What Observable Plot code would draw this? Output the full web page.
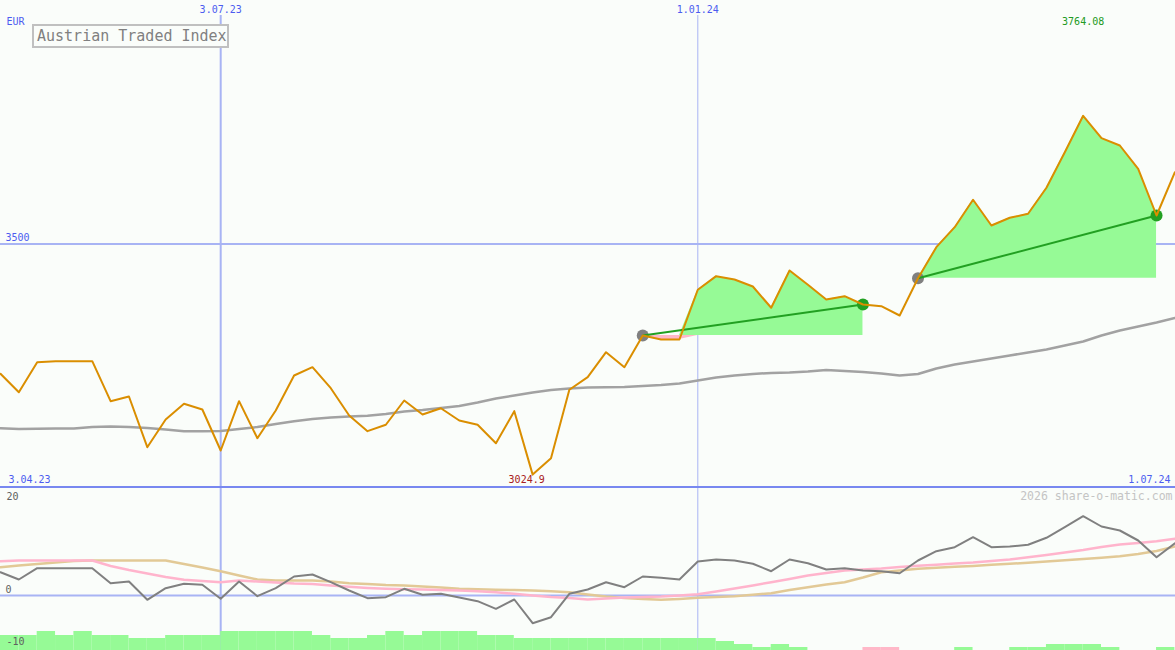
<!DOCTYPE html>
<html><head><meta charset="utf-8">
<script src="https://cdn.jsdelivr.net/npm/d3@7"></script>
<script src="https://cdn.jsdelivr.net/npm/@observablehq/plot@0.6"></script>
<style>
body{margin:0;background:#fafdfa;}
#chart{position:relative;width:1175px;height:650px;overflow:hidden;background:#fafdfa;}
#chart svg{display:block;}
#title{position:absolute;left:32px;top:24px;width:190px;height:20px;padding-left:3px;border:2px solid #c0c0c0;background:#fafdfa;font:15px "DejaVu Sans Mono",monospace;color:#808080;line-height:20px;z-index:2;white-space:nowrap;}
</style></head>
<body>
<div id="chart"><div id="title">Austrian Traded Index</div></div>
<script>
// ---- data (weekly, Mondays 10.04.23 .. 1.07.24) ----
const price = [3232.6, 3194.7, 3256.5, 3258.6, 3258.6, 3258.6, 3176.2, 3185.8, 3081.4, 3138.5,
  3170.8, 3159.1, 3074.6, 3176.2, 3099.9, 3157.0, 3229.1, 3246.2, 3202.9, 3146.7,
  3114.4, 3127.6, 3177.6, 3148.8, 3161.7, 3136.4, 3127.6, 3089.6, 3155.6, 3024.9,
  3058.7, 3199.7, 3225.6, 3277.1, 3246.2, 3311.5, 3303.3, 3303.3, 3405.7, 3433.7,
  3426.9, 3412.4, 3368.6, 3445.4, 3416.0, 3385.7, 3392.5, 3375.4, 3371.9, 3352.7,
  3429.5, 3493.4, 3534.6, 3591.1, 3538.1, 3554.0, 3562.2, 3615.8, 3689.1, 3764.08,
  3718.0, 3702.9, 3654.9, 3558.7, 3647.9];
const movingAvg = [3120.5, 3118.9, 3119.3, 3119.9, 3119.9, 3123.0, 3124.0, 3123.0, 3121.0, 3117.9,
  3114.4, 3114.4, 3114.8, 3118.9, 3123.0, 3129.2, 3135.0, 3139.5, 3142.6, 3144.6,
  3146.1, 3149.8, 3155.0, 3158.0, 3162.2, 3166.3, 3173.5, 3181.7, 3187.9, 3194.1,
  3199.2, 3202.3, 3204.4, 3205.0, 3205.4, 3207.5, 3209.5, 3212.6, 3218.8, 3225.0,
  3229.1, 3232.2, 3234.3, 3235.3, 3237.3, 3240.4, 3238.4, 3236.3, 3233.2, 3229.1,
  3232.2, 3243.5, 3251.8, 3257.9, 3264.1, 3270.3, 3276.5, 3282.7, 3290.9, 3299.1,
  3311.5, 3321.8, 3330.0, 3338.3, 3347.6];
const oscillator = [4.66, 3.2, 5.46, 5.46, 5.46, 5.46, 2.46, 2.8, -0.86, 1.46,
  2.34, 2.14, -0.66, 2.8, -0.14, 1.46, 3.8, 4.2, 2.66, 1.0,
  -0.54, -0.34, 1.34, 0.14, 0.34, -0.4, -1.14, -2.66, -0.8, -5.54,
  -4.34, 0.34, 1.2, 2.66, 1.66, 3.8, 3.54, 3.2, 6.8, 7.2,
  7.0, 6.34, 4.86, 7.2, 6.46, 5.2, 5.46, 5.0, 4.86, 4.46,
  7.0, 8.86, 9.66, 11.66, 9.66, 9.8, 10.14, 11.54, 13.66, 15.86,
  13.8, 13.0, 11.0, 7.66, 10.46];
const signalPink = [6.86, 7.0, 7.0, 7.0, 7.0, 7.0, 5.9, 5.1, 4.4, 3.7,
  3.14, 2.9, 2.66, 3.0, 2.8, 2.6, 2.4, 2.3, 2.0, 1.74,
  1.5, 1.34, 1.26, 1.2, 1.1, 1.0, 0.84, 0.66, 0.34, 0.0,
  -0.3, -0.5, -0.8, -0.6, -0.4, -0.3, -0.2, 0.0, 0.26, 0.8,
  1.4, 2.0, 2.66, 3.3, 4.0, 4.5, 5.0, 5.2, 5.4, 5.7,
  5.94, 6.16, 6.4, 6.6, 6.9, 7.2, 7.64, 8.1, 8.6, 9.1,
  9.7, 10.2, 10.5, 10.84, 11.34];
const signalTan = [5.66, 6.0, 6.3, 6.6, 6.9, 7.0, 7.0, 7.0, 7.0, 7.0,
  6.3, 5.6, 4.86, 4.0, 3.2, 3.0, 3.0, 3.0, 2.8, 2.44,
  2.3, 2.1, 2.0, 1.8, 1.6, 1.34, 1.24, 1.14, 1.08, 1.0,
  0.84, 0.66, 0.2, -0.2, -0.5, -0.7, -0.86, -0.7, -0.46, -0.3,
  -0.14, 0.14, 0.46, 1.1, 1.66, 2.2, 2.66, 3.6, 4.66, 5.0,
  5.34, 5.54, 5.74, 5.9, 6.14, 6.34, 6.54, 6.8, 7.04, 7.3,
  7.54, 7.86, 8.3, 8.9, 9.8];
const histogram = [3.0, 3.0, 3.8, 3.0, 3.8, 3.0, 3.0, 2.4, 2.4, 3.0,
  3.0, 3.0, 3.8, 3.8, 3.8, 3.8, 3.8, 3.0, 2.4, 2.4,
  3.0, 3.8, 3.0, 3.8, 3.8, 3.8, 3.0, 3.0, 2.4, 2.4,
  2.4, 2.4, 2.4, 2.4, 2.4, 2.4, 2.4, 2.4, 2.4, 1.8,
  1.2, 0.6, 1.2, 0.6, 0, 0, 0, -0.6, -0.6, 0,
  0, 0, 0.6, 0, 0, 0.6, 0.6, 1.2, 1.2, 1.2,
  0.6, 0, 0, 0.6, 0];
const trades = [[35, 47], [50, 63]];           // entry index, exit index
const gridLabels = ["3.07.23", "1.01.24"];
const gridDates = [new Date(Date.UTC(2023, 6, 3)), new Date(Date.UTC(2024, 0, 1))];
const gridWidths = [2, 1];
const edgeLabels = ["3.04.23", "1.07.24"];
const priceTicks = [3500];
const lowerTicks = [20, 0, -10];
const currency = "EUR";
const credit = "2026 share-o-matic.com";

// ---- build ----
const dates = d3.utcMonday.range(new Date(Date.UTC(2023, 3, 10)), new Date(Date.UTC(2024, 6, 2)));
const rows = dates.map((date, i) => ({
  date, next: dates[i + 1] ?? d3.utcWeek.offset(date, 1),
  price: price[i], ma: movingAvg[i], osc: oscillator[i],
  sigA: signalPink[i], sigB: signalTan[i], hist: histogram[i]
}));
const grid = gridDates.map((date, i) => ({date, label: gridLabels[i], w: gridWidths[i]}));
const tradeLinks = trades.map(([a, b]) => ({x1: dates[a], y1: price[a], x2: dates[b], y2: price[b]}));
const maxRow = rows.reduce((a, b) => b.price > a.price ? b : a);
const minRow = rows.reduce((a, b) => b.price < a.price ? b : a);

const BG = "#fafdfa", GRID = "#a8b4f4", BLUE = "#4c5cf0", GREEN_FILL = "#96fa96", PINK_FILL = "#ffb8c8";
const FONT = "DejaVu Sans Mono";
const xScale = {type: "utc", domain: [dates[0], dates[dates.length - 1]], range: [0, 1174.4]};
const txt = {fontFamily: FONT, fontSize: 10, lineAnchor: "middle"};

const tradeAreas = trades.flatMap(([a, b]) => {
  const seg = rows.slice(a, b + 1), entry = price[a];
  return [
    Plot.areaY(seg, {x: "date", y1: entry, y2: d => Math.max(d.price, entry), fill: GREEN_FILL}),
    Plot.areaY(seg, {x: "date", y1: entry, y2: d => Math.min(d.price, entry), fill: PINK_FILL})
  ];
});

const topPlot = Plot.plot({
  width: 1175, height: 488, margin: 0,
  style: {background: BG, fontFamily: FONT},
  x: {...xScale, axis: null},
  y: {domain: [2996.3, 4001.6], range: [488, 0], axis: null},
  marks: [
    Plot.ruleY(priceTicks, {stroke: GRID, strokeWidth: 2}),
    Plot.ruleX(grid, {x: "date", stroke: GRID, strokeWidth: "w", insetTop: 15}),
    Plot.line(rows, {x: "date", y: "ma", stroke: "#a2a2a2", strokeWidth: 2.5}),
    ...tradeAreas,
    Plot.dot(tradeLinks, {x: "x1", y: "y1", r: 6, fill: "#808080"}),
    Plot.dot(tradeLinks, {x: "x2", y: "y2", r: 6, fill: "#22a022"}),
    Plot.link(tradeLinks, {x1: "x1", y1: "y1", x2: "x2", y2: "y2", stroke: "#22a022", strokeWidth: 2}),
    Plot.line(rows, {x: "date", y: "price", stroke: "#da8e00", strokeWidth: 2}),
    Plot.ruleY([2996.3], {stroke: "#7888f0", strokeWidth: 2, dy: -1.5}),
    Plot.text([currency], {...txt, frameAnchor: "top-left", textAnchor: "start", dx: 6, dy: 21, fill: BLUE}),
    Plot.text(grid, {...txt, x: "date", text: "label", frameAnchor: "top", textAnchor: "middle", dy: 9, fill: BLUE}),
    Plot.text(priceTicks, {...txt, y: d => d, text: d => String(d), frameAnchor: "left", textAnchor: "start", dx: 5, dy: -6, fill: BLUE}),
    Plot.text([maxRow], {...txt, x: "date", text: d => d.price.toFixed(2), frameAnchor: "top", textAnchor: "middle", dy: 21, fill: "#229a22"}),
    Plot.text([minRow], {...txt, x: "date", text: d => String(d.price), frameAnchor: "bottom", textAnchor: "middle", dx: -6, dy: -9, fill: "#a82020"}),
    Plot.text([edgeLabels[0]], {...txt, frameAnchor: "bottom-left", textAnchor: "start", dx: 8, dy: -9, fill: BLUE}),
    Plot.text([edgeLabels[1]], {...txt, frameAnchor: "bottom-right", textAnchor: "end", dx: -5, dy: -9, fill: BLUE})
  ]
});

const yMin = -11;
const bottomPlot = Plot.plot({
  width: 1175, height: 162, margin: 0,
  style: {background: BG, fontFamily: FONT},
  x: {...xScale, axis: null},
  y: {domain: [yMin, 21.4], range: [162, 0], axis: null},
  marks: [
    Plot.ruleX(grid, {x: "date", stroke: GRID, strokeWidth: "w"}),
    Plot.ruleY([0], {stroke: GRID, strokeWidth: 2}),
    Plot.rectY(rows.filter(d => d.hist > 0), {x1: "date", x2: "next", y1: yMin, y2: d => yMin + d.hist, fill: GREEN_FILL}),
    Plot.rectY(rows.filter(d => d.hist < 0), {x1: "date", x2: "next", y1: yMin, y2: d => yMin - d.hist, fill: PINK_FILL}),
    Plot.line(rows, {x: "date", y: "sigB", stroke: "#e2c996", strokeWidth: 2.5}),
    Plot.line(rows, {x: "date", y: "sigA", stroke: "#ffb4cc", strokeWidth: 2.5}),
    Plot.line(rows, {x: "date", y: "osc", stroke: "#808080", strokeWidth: 2}),
    ...lowerTicks.map((t, i) => Plot.text([t], {...txt, y: d => d, text: d => String(d), frameAnchor: "left", textAnchor: "start", dx: t === 0 ? 5 : 6, dy: [1, -6, -4][i], fill: "#606060"})),
    Plot.text([credit], {...txt, fontSize: 11.5, frameAnchor: "top-right", textAnchor: "end", dx: -3, dy: 8, fill: "#c4c4c4"})
  ]
});

const chart = document.getElementById("chart");
chart.appendChild(topPlot);
chart.appendChild(bottomPlot);
</script>
</body></html>
